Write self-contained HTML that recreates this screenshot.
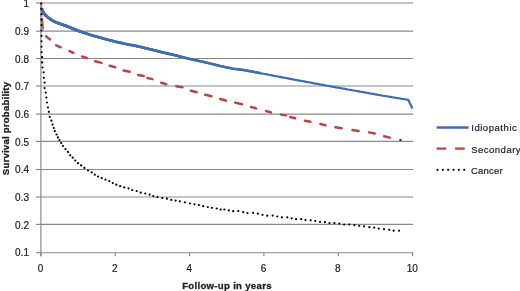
<!DOCTYPE html>
<html><head><meta charset="utf-8"><style>
html,body{margin:0;padding:0;background:#fff;}
body{width:520px;height:291px;overflow:hidden;}
svg{display:block;will-change:transform;}
text{font-family:"Liberation Sans",sans-serif;}
.r{stroke:#222;stroke-width:0.2px;}
.b{stroke:#222;stroke-width:0.3px;}
</style></head><body>
<svg width="520" height="291" viewBox="0 0 520 291">
<rect width="520" height="291" fill="#fff"/>
<line x1="41" y1="3.00" x2="413.2" y2="3.00" stroke="#8a8a8a" stroke-width="1.2"/>
<line x1="41" y1="31.20" x2="413.2" y2="31.20" stroke="#8a8a8a" stroke-width="1.2"/>
<line x1="41" y1="58.50" x2="413.2" y2="58.50" stroke="#8a8a8a" stroke-width="1.2"/>
<line x1="41" y1="86.00" x2="413.2" y2="86.00" stroke="#8a8a8a" stroke-width="1.2"/>
<line x1="41" y1="114.10" x2="413.2" y2="114.10" stroke="#8a8a8a" stroke-width="1.2"/>
<line x1="41" y1="141.40" x2="413.2" y2="141.40" stroke="#8a8a8a" stroke-width="1.2"/>
<line x1="41" y1="169.50" x2="413.2" y2="169.50" stroke="#8a8a8a" stroke-width="1.2"/>
<line x1="41" y1="197.00" x2="413.2" y2="197.00" stroke="#8a8a8a" stroke-width="1.2"/>
<line x1="41" y1="224.40" x2="413.2" y2="224.40" stroke="#8a8a8a" stroke-width="1.2"/>
<line x1="40.90" y1="2.50" x2="40.90" y2="256.20" stroke="#868686" stroke-width="1.15"/>
<line x1="40.40" y1="252.70" x2="413.10" y2="252.70" stroke="#868686" stroke-width="1.15"/>
<line x1="36" y1="3.00" x2="40.90" y2="3.00" stroke="#868686" stroke-width="1.15"/>
<line x1="36" y1="31.20" x2="40.90" y2="31.20" stroke="#868686" stroke-width="1.15"/>
<line x1="36" y1="58.50" x2="40.90" y2="58.50" stroke="#868686" stroke-width="1.15"/>
<line x1="36" y1="86.00" x2="40.90" y2="86.00" stroke="#868686" stroke-width="1.15"/>
<line x1="36" y1="114.10" x2="40.90" y2="114.10" stroke="#868686" stroke-width="1.15"/>
<line x1="36" y1="141.40" x2="40.90" y2="141.40" stroke="#868686" stroke-width="1.15"/>
<line x1="36" y1="169.50" x2="40.90" y2="169.50" stroke="#868686" stroke-width="1.15"/>
<line x1="36" y1="197.00" x2="40.90" y2="197.00" stroke="#868686" stroke-width="1.15"/>
<line x1="36" y1="224.40" x2="40.90" y2="224.40" stroke="#868686" stroke-width="1.15"/>
<line x1="36" y1="252.70" x2="40.90" y2="252.70" stroke="#868686" stroke-width="1.15"/>
<line x1="40.90" y1="252.70" x2="40.90" y2="256.20" stroke="#868686" stroke-width="1.15"/>
<line x1="115.24" y1="252.70" x2="115.24" y2="256.20" stroke="#868686" stroke-width="1.15"/>
<line x1="189.58" y1="252.70" x2="189.58" y2="256.20" stroke="#868686" stroke-width="1.15"/>
<line x1="263.92" y1="252.70" x2="263.92" y2="256.20" stroke="#868686" stroke-width="1.15"/>
<line x1="338.26" y1="252.70" x2="338.26" y2="256.20" stroke="#868686" stroke-width="1.15"/>
<line x1="412.60" y1="252.70" x2="412.60" y2="256.20" stroke="#868686" stroke-width="1.15"/>
<text x="29" y="7.10" font-size="10" text-anchor="end" fill="#222" class="r">1</text>
<text x="29" y="34.80" font-size="10" text-anchor="end" fill="#222" class="r">0.9</text>
<text x="29" y="62.50" font-size="10" text-anchor="end" fill="#222" class="r">0.8</text>
<text x="29" y="90.20" font-size="10" text-anchor="end" fill="#222" class="r">0.7</text>
<text x="29" y="117.90" font-size="10" text-anchor="end" fill="#222" class="r">0.6</text>
<text x="29" y="145.60" font-size="10" text-anchor="end" fill="#222" class="r">0.5</text>
<text x="29" y="173.40" font-size="10" text-anchor="end" fill="#222" class="r">0.4</text>
<text x="29" y="201.20" font-size="10" text-anchor="end" fill="#222" class="r">0.3</text>
<text x="29" y="228.50" font-size="10" text-anchor="end" fill="#222" class="r">0.2</text>
<text x="29" y="255.70" font-size="10" text-anchor="end" fill="#222" class="r">0.1</text>
<text x="40.50" y="271.6" font-size="10" text-anchor="middle" fill="#222" class="r">0</text>
<text x="114.84" y="271.6" font-size="10" text-anchor="middle" fill="#222" class="r">2</text>
<text x="189.18" y="271.6" font-size="10" text-anchor="middle" fill="#222" class="r">4</text>
<text x="263.52" y="271.6" font-size="10" text-anchor="middle" fill="#222" class="r">6</text>
<text x="337.86" y="271.6" font-size="10" text-anchor="middle" fill="#222" class="r">8</text>
<text x="412.20" y="271.6" font-size="10" text-anchor="middle" fill="#222" class="r">10</text>
<text x="227" y="288.5" font-size="9.6" font-weight="bold" text-anchor="middle" fill="#222" class="b" letter-spacing="0.3">Follow-up in years</text>
<text transform="translate(9,128.5) rotate(-90)" x="0" y="0" font-size="9.6" font-weight="bold" text-anchor="middle" fill="#222" class="b" letter-spacing="0.22">Survival probability</text>
<path d="M46.22 36.41L49.98 39.39M56.19 45.32L60.71 47.28M69.49 51.11L73.41 52.79M82.03 56.43L87.07 58.17M95.26 61.23L101.44 62.87M109.76 65.82L115.24 67.18M123.57 70.48L129.73 71.82M138.18 75.04L143.72 76.06M147.47 77.99L152.43 79.11M161.24 82.68L166.26 84.22M176.28 86.22L182.42 87.28M190.86 90.80L196.64 92.20M205.27 94.79L211.43 96.21M220.25 98.96L225.85 100.54M235.26 102.61L242.04 104.29M251.06 107.03L256.04 108.37M266.05 110.95L271.05 112.35M281.08 114.61L286.02 115.39M290.26 117.00L295.24 118.20M304.97 120.67L310.43 121.83M320.46 123.93L325.44 125.27M335.48 127.31L341.62 128.29M352.48 130.01L358.52 130.99M369.17 132.37L374.73 133.53M384.16 136.21L389.74 137.59" fill="none" stroke="#b94442" stroke-width="2.5" stroke-linecap="round"/>
<path d="M41.3 3.5L41.4 11M41.7 12.5L42.1 17" fill="none" stroke="#b94442" stroke-width="2.2" opacity="0.45"/>
<circle cx="400.5" cy="139.9" r="1.25" fill="#5a2a2a"/>
<path d="M41.8 18L42.9 29.5" fill="none" stroke="#9a4a3e" stroke-width="2.6" opacity="0.85"/>
<polyline points="42.0,9.2 42.6,10.8 44.1,13.6 46.2,15.9 48.2,17.6 50.4,19.2 52.4,20.5 54.5,21.6 56.5,22.5 58.6,23.3 60.6,24.0 62.7,24.7 64.7,25.4 66.0,25.9 68.0,26.7 70.0,27.5 72.0,28.3 74.0,29.1 76.0,29.9 78.0,30.7 80.0,31.4 82.0,32.1 84.0,32.8 86.0,33.4 88.0,34.0 90.0,34.7 92.0,35.3 94.0,35.9 96.0,36.4 98.0,37.0 100.0,37.6 102.0,38.1 104.0,38.7 106.0,39.2 108.0,39.8 110.0,40.3 112.0,40.8 114.0,41.3 116.0,41.8 118.0,42.3 120.0,42.7 122.0,43.1 124.0,43.6 126.0,44.0 128.0,44.4 130.0,44.8 132.0,45.1 134.0,45.5 136.0,45.9 138.0,46.4 140.0,46.8 142.0,47.3 144.0,47.8 146.0,48.3 148.0,48.8 150.0,49.3 152.0,49.7 154.0,50.2 156.0,50.7 158.0,51.2 160.0,51.7 162.0,52.2 164.0,52.7 166.0,53.1 168.0,53.6 170.0,54.1 172.0,54.5 174.0,55.0 176.0,55.5 178.0,56.0 180.0,56.6 182.0,57.1 184.0,57.6 186.0,58.1 188.0,58.6 190.0,59.0 192.0,59.4 194.0,59.9 196.0,60.3 198.0,60.7 200.0,61.2 202.0,61.6 204.0,62.1 206.0,62.6 208.0,63.0 210.0,63.5 212.0,63.9 214.0,64.4 216.0,64.9 218.0,65.4 220.0,65.9 222.0,66.3 224.0,66.8 226.0,67.3 228.0,67.7 230.0,68.1 232.0,68.5 234.0,68.8 236.0,69.1 238.0,69.3 240.0,69.5 242.0,69.8 244.0,70.1 246.0,70.4 248.0,70.8 250.0,71.2 252.0,71.5 254.0,71.9 256.0,72.3 258.0,72.7 260.0,73.1 262.0,73.5 264.0,73.9 266.0,74.2 268.0,74.6 270.0,75.0 272.0,75.4 274.0,75.8 276.0,76.2 278.0,76.5 280.0,76.9 282.0,77.3 284.0,77.7 286.0,78.0 288.0,78.4 290.0,78.8 292.0,79.2 294.0,79.6 296.0,79.9 298.0,80.3 300.0,80.7 302.0,81.0 304.0,81.4 306.0,81.8 308.0,82.2 310.0,82.5 312.0,82.9 314.0,83.3 316.0,83.6 318.0,84.0 320.0,84.4 322.0,84.7 324.0,85.1 326.0,85.5 328.0,85.8 330.0,86.2 332.0,86.6 334.0,86.9 336.0,87.3 338.0,87.7 340.0,88.0 342.0,88.4 344.0,88.7 346.0,89.1 348.0,89.5 350.0,89.8 352.0,90.2 354.0,90.5 356.0,90.9 358.0,91.2 360.0,91.6 362.0,91.9 364.0,92.3 366.0,92.7 368.0,93.0 370.0,93.4 372.0,93.7 374.0,94.1 376.0,94.4 378.0,94.8 380.0,95.1 382.0,95.5 384.0,95.8 386.0,96.2 388.0,96.5 390.0,96.8 392.0,97.2 394.0,97.5 396.0,97.9 398.0,98.2 400.0,98.5 402.0,98.9 404.0,99.2 406.0,99.5 408.2,99.8 412.4,108.6" fill="none" stroke="#3f6db0" stroke-width="2.25" stroke-linejoin="round"/>
<polyline points="42.0,9.2 42.6,10.8 44.1,13.6 46.2,15.9 48.2,17.6 50.4,19.2 52.4,20.5 54.5,21.6 56.5,22.5 58.6,23.3 60.6,24.0 62.7,24.7 64.7,25.4 66.0,25.9 68.0,26.7 70.0,27.5 72.0,28.3 74.0,29.1 76.0,29.9 78.0,30.7 80.0,31.4 82.0,32.1 84.0,32.8 86.0,33.4 88.0,34.0 90.0,34.7 92.0,35.3 94.0,35.9 96.0,36.4 98.0,37.0 100.0,37.6 102.0,38.1 104.0,38.7 106.0,39.2 108.0,39.8 110.0,40.3 112.0,40.8 114.0,41.3 116.0,41.8 118.0,42.3 120.0,42.7 122.0,43.1 124.0,43.6 126.0,44.0 128.0,44.4 130.0,44.8 132.0,45.1 134.0,45.5 136.0,45.9 138.0,46.4 140.0,46.8 142.0,47.3 144.0,47.8 146.0,48.3 148.0,48.8 150.0,49.3 152.0,49.7 154.0,50.2 156.0,50.7 158.0,51.2 160.0,51.7 162.0,52.2 164.0,52.7 166.0,53.1 168.0,53.6 170.0,54.1 172.0,54.5 174.0,55.0 176.0,55.5 178.0,56.0 180.0,56.6 182.0,57.1 184.0,57.6 186.0,58.1 188.0,58.6 190.0,59.0 192.0,59.4 194.0,59.9 196.0,60.3 198.0,60.7 200.0,61.2 202.0,61.6 204.0,62.1 206.0,62.6 208.0,63.0 210.0,63.5 212.0,63.9 214.0,64.4 216.0,64.9 218.0,65.4 220.0,65.9 222.0,66.3 224.0,66.8 226.0,67.3 228.0,67.7 230.0,68.1 232.0,68.5 234.0,68.8 236.0,69.1 238.0,69.3 240.0,69.5 242.0,69.8 244.0,70.1 246.0,70.4 248.0,70.8 250.0,71.2 252.0,71.5 254.0,71.9 256.0,72.3 258.0,72.7 260.0,73.1" fill="none" stroke="#3f6db0" stroke-width="2.55" stroke-linejoin="round" stroke-linecap="round"/>
<polyline points="42.0,9.2 42.6,10.8 44.1,13.6 46.2,15.9 48.2,17.6 50.4,19.2 52.4,20.5 54.5,21.6 56.5,22.5 58.6,23.3 60.6,24.0 62.7,24.7 64.7,25.4 66.0,25.9 68.0,26.7 70.0,27.5 72.0,28.3 74.0,29.1 76.0,29.9 78.0,30.7 80.0,31.4 82.0,32.1 84.0,32.8 86.0,33.4 88.0,34.0 90.0,34.7 92.0,35.3 94.0,35.9 96.0,36.4 98.0,37.0 100.0,37.6 102.0,38.1 104.0,38.7 106.0,39.2 108.0,39.8 110.0,40.3 112.0,40.8 114.0,41.3 116.0,41.8 118.0,42.3 120.0,42.7 122.0,43.1 124.0,43.6 126.0,44.0 128.0,44.4 130.0,44.8 132.0,45.1 134.0,45.5 136.0,45.9 138.0,46.4 140.0,46.8 142.0,47.3 144.0,47.8 146.0,48.3 148.0,48.8 150.0,49.3 152.0,49.7 154.0,50.2 156.0,50.7 158.0,51.2 160.0,51.7 162.0,52.2 164.0,52.7 166.0,53.1 168.0,53.6 170.0,54.1 172.0,54.5 174.0,55.0 176.0,55.5 178.0,56.0 180.0,56.6" fill="none" stroke="#3f6db0" stroke-width="2.7" stroke-linejoin="round" stroke-linecap="round"/>
<polyline points="42.0,9.2 42.6,10.8 44.1,13.6 46.2,15.9 48.2,17.6 50.4,19.2 52.4,20.5 54.5,21.6 56.5,22.5 58.6,23.3 60.6,24.0 62.7,24.7 64.7,25.4 66.0,25.9 68.0,26.7 70.0,27.5 72.0,28.3 74.0,29.1 76.0,29.9 78.0,30.7 80.0,31.4" fill="none" stroke="#3f6db0" stroke-width="2.9" stroke-linejoin="round" stroke-linecap="round"/>
<g fill="#000"><circle cx="41.30" cy="3.40" r="1.05"/><circle cx="41.33" cy="8.82" r="1.05"/><circle cx="41.36" cy="14.24" r="1.05"/><circle cx="41.39" cy="19.66" r="1.05"/><circle cx="41.42" cy="25.08" r="1.05"/><circle cx="41.45" cy="30.50" r="1.05"/><circle cx="41.48" cy="35.92" r="1.05"/><circle cx="41.51" cy="41.34" r="1.05"/><circle cx="41.54" cy="46.76" r="1.05"/><circle cx="41.57" cy="52.18" r="1.05"/><circle cx="42.10" cy="57.20" r="1.12"/><circle cx="42.10" cy="62.40" r="1.12"/><circle cx="42.50" cy="67.50" r="1.12"/><circle cx="43.60" cy="72.30" r="1.12"/><circle cx="43.80" cy="77.80" r="1.12"/><circle cx="44.60" cy="82.60" r="1.12"/><circle cx="44.60" cy="88.10" r="1.12"/><circle cx="45.70" cy="92.60" r="1.12"/><circle cx="46.40" cy="97.60" r="1.12"/><circle cx="47.00" cy="102.50" r="1.12"/><circle cx="47.90" cy="107.50" r="1.12"/><circle cx="48.90" cy="111.80" r="1.12"/><circle cx="49.80" cy="116.80" r="1.12"/><circle cx="51.40" cy="120.70" r="1.12"/><circle cx="52.60" cy="124.60" r="1.12"/><circle cx="53.80" cy="128.00" r="1.12"/><circle cx="54.80" cy="131.20" r="1.12"/><circle cx="56.50" cy="134.50" r="1.12"/><circle cx="57.90" cy="137.40" r="1.12"/><circle cx="59.50" cy="140.10" r="1.12"/><circle cx="61.20" cy="143.00" r="1.12"/><circle cx="62.90" cy="146.00" r="1.12"/><circle cx="65.50" cy="149.10" r="1.12"/><circle cx="67.90" cy="151.90" r="1.12"/><circle cx="70.20" cy="155.30" r="1.12"/><circle cx="72.70" cy="157.70" r="1.12"/><circle cx="75.30" cy="160.50" r="1.12"/><circle cx="78.00" cy="163.20" r="1.12"/><circle cx="81.10" cy="165.40" r="1.12"/><circle cx="84.40" cy="167.90" r="1.12"/><circle cx="88.00" cy="170.50" r="1.12"/><circle cx="91.70" cy="172.40" r="1.12"/><circle cx="94.80" cy="174.70" r="1.12"/><circle cx="98.10" cy="176.50" r="1.12"/><circle cx="101.70" cy="178.20" r="1.12"/><circle cx="105.50" cy="179.60" r="1.12"/><circle cx="109.30" cy="181.10" r="1.12"/><circle cx="112.80" cy="183.10" r="1.12"/><circle cx="116.30" cy="184.70" r="1.12"/><circle cx="120.20" cy="186.20" r="1.12"/><circle cx="124.20" cy="187.40" r="1.12"/><circle cx="128.50" cy="188.30" r="1.12"/><circle cx="132.20" cy="190.00" r="1.12"/><circle cx="136.70" cy="191.00" r="1.12"/><circle cx="140.70" cy="192.70" r="1.12"/><circle cx="145.30" cy="193.50" r="1.12"/><circle cx="149.60" cy="194.70" r="1.12"/><circle cx="153.30" cy="196.10" r="1.12"/><circle cx="157.50" cy="197.10" r="1.12"/><circle cx="162.30" cy="198.00" r="1.12"/><circle cx="166.90" cy="198.70" r="1.12"/><circle cx="171.30" cy="199.90" r="1.12"/><circle cx="175.60" cy="200.60" r="1.12"/><circle cx="179.80" cy="201.30" r="1.12"/><circle cx="184.90" cy="202.30" r="1.12"/><circle cx="189.90" cy="203.50" r="1.12"/><circle cx="194.40" cy="204.30" r="1.12"/><circle cx="198.80" cy="205.00" r="1.12"/><circle cx="203.20" cy="206.20" r="1.12"/><circle cx="207.80" cy="207.00" r="1.12"/><circle cx="212.00" cy="207.80" r="1.12"/><circle cx="216.70" cy="208.50" r="1.12"/><circle cx="220.70" cy="209.50" r="1.12"/><circle cx="224.40" cy="209.50" r="1.12"/><circle cx="228.80" cy="210.40" r="1.12"/><circle cx="233.20" cy="211.20" r="1.12"/><circle cx="238.30" cy="211.00" r="1.12"/><circle cx="243.20" cy="212.20" r="1.12"/><circle cx="247.50" cy="213.10" r="1.12"/><circle cx="253.10" cy="212.80" r="1.12"/><circle cx="257.90" cy="213.70" r="1.12"/><circle cx="262.50" cy="214.80" r="1.12"/><circle cx="267.20" cy="215.70" r="1.12"/><circle cx="272.70" cy="215.60" r="1.12"/><circle cx="277.30" cy="216.50" r="1.12"/><circle cx="281.90" cy="217.30" r="1.12"/><circle cx="287.30" cy="217.30" r="1.12"/><circle cx="291.60" cy="218.30" r="1.12"/><circle cx="296.10" cy="219.20" r="1.12"/><circle cx="301.20" cy="219.20" r="1.12"/><circle cx="305.50" cy="220.10" r="1.12"/><circle cx="310.70" cy="220.30" r="1.12"/><circle cx="315.30" cy="221.00" r="1.12"/><circle cx="320.00" cy="221.80" r="1.12"/><circle cx="324.90" cy="222.20" r="1.12"/><circle cx="329.50" cy="223.00" r="1.12"/><circle cx="334.40" cy="223.20" r="1.12"/><circle cx="339.30" cy="223.50" r="1.12"/><circle cx="344.20" cy="224.50" r="1.12"/><circle cx="349.20" cy="224.50" r="1.12"/><circle cx="354.40" cy="225.20" r="1.12"/><circle cx="359.20" cy="225.80" r="1.12"/><circle cx="364.10" cy="226.30" r="1.12"/><circle cx="369.40" cy="227.20" r="1.12"/><circle cx="374.20" cy="227.60" r="1.12"/><circle cx="378.80" cy="228.60" r="1.12"/><circle cx="384.00" cy="229.20" r="1.12"/><circle cx="389.20" cy="229.80" r="1.12"/><circle cx="393.60" cy="230.70" r="1.12"/><circle cx="399.00" cy="230.70" r="1.12"/></g>
<line x1="436.6" y1="127.5" x2="468.5" y2="127.5" stroke="#3f6db0" stroke-width="2.4"/>
<line x1="436.6" y1="148.6" x2="446.2" y2="148.6" stroke="#b94442" stroke-width="2.3"/>
<line x1="455.1" y1="148.6" x2="464.7" y2="148.6" stroke="#b94442" stroke-width="2.3"/>
<g fill="#000"><circle cx="437.50" cy="169.8" r="1.12"/><circle cx="442.84" cy="169.8" r="1.12"/><circle cx="448.18" cy="169.8" r="1.12"/><circle cx="453.52" cy="169.8" r="1.12"/><circle cx="458.86" cy="169.8" r="1.12"/><circle cx="464.20" cy="169.8" r="1.12"/></g>
<text x="471.2" y="131.4" font-size="9.5" fill="#222" class="r" letter-spacing="0.55">Idiopathic</text>
<text x="471.2" y="152.8" font-size="9.5" fill="#222" class="r" letter-spacing="0.5">Secondary</text>
<text x="471" y="173.9" font-size="9.5" fill="#222" class="r" letter-spacing="0.22">Cancer</text>
</svg>
</body></html>
